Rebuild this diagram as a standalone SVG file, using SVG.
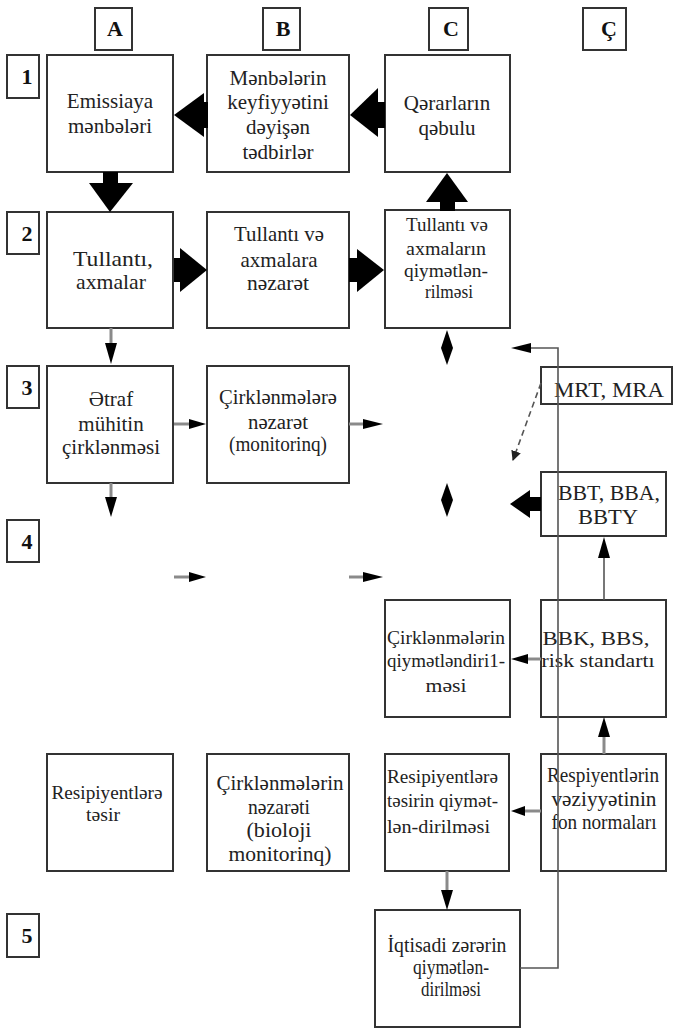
<svg xmlns="http://www.w3.org/2000/svg" width="674" height="1028" viewBox="0 0 674 1028">
<style>
.box{fill:#fff;stroke:#333;stroke-width:2}
.t{font-family:"Liberation Serif","DejaVu Serif",serif;font-size:21px;fill:#222;text-anchor:middle}
.s{font-size:19px}
.m{font-size:20px}
.l{text-anchor:start}
.h{font-family:"Liberation Serif","DejaVu Serif",serif;font-size:22px;font-weight:bold;fill:#111;text-anchor:middle}
.g{stroke:#8a8a8a;stroke-width:3;fill:none}
.fb{stroke:#555;stroke-width:1.6;fill:none}
.k{fill:#000;stroke:none}
.d{stroke:#555;stroke-width:1.6;fill:none;stroke-dasharray:6 4}
</style>
<defs>
<marker id="dh" viewBox="0 0 10 10" refX="9" refY="5" markerWidth="10" markerHeight="10" markerUnits="userSpaceOnUse" orient="auto">
<path d="M0,0 L10,5 L0,10 z" fill="#222"/>
</marker>
</defs>

<g id="headers">
<g id="hA"><rect class="box" x="95" y="8" width="37" height="42"/><text class="h" x="115" y="36">A</text></g>
<g id="hB"><rect class="box" x="263" y="8" width="37" height="42"/><text class="h" x="283" y="36">B</text></g>
<g id="hC"><rect class="box" x="429" y="8" width="39" height="42"/><text class="h" x="451" y="36">C</text></g>
<g id="hCc"><rect class="box" x="583" y="8" width="43" height="42"/><text class="h" x="609" y="36">Ç</text></g>
</g>
<g id="rows">
<g id="r1"><rect class="box" x="7" y="55" width="32" height="43"/><text class="h" x="27" y="84">1</text></g>
<g id="r2"><rect class="box" x="7" y="212" width="32" height="42"/><text class="h" x="27" y="241">2</text></g>
<g id="r3"><rect class="box" x="7" y="366" width="32" height="42"/><text class="h" x="27" y="395">3</text></g>
<g id="r4"><rect class="box" x="7" y="520" width="32" height="42"/><text class="h" x="27" y="549">4</text></g>
<g id="r5"><rect class="box" x="7" y="914" width="32" height="43"/><text class="h" x="27" y="943">5</text></g>
</g>

<g id="A1"><rect class="box" x="47" y="55" width="126" height="117"/>
<text class="t" x="110" y="108">Emissiaya</text><text class="t" x="110" y="133">mənbələri</text></g>
<g id="B1"><rect class="box" x="207" y="55" width="142" height="117"/>
<text class="t" x="278" y="85">Mənbələrin</text><text class="t" x="278" y="109">keyfiyyətini</text><text class="t" x="278" y="134">dəyişən</text><text class="t" x="278" y="159">tədbirlər</text></g>
<g id="C1"><rect class="box" x="385" y="55" width="125" height="117"/>
<text class="t" x="447" y="110">Qərarların</text><text class="t" x="447" y="135">qəbulu</text></g>

<g id="A2"><rect class="box" x="47" y="212" width="126" height="116"/>
<text class="t" x="113" y="266" font-size="22" textLength="80" lengthAdjust="spacingAndGlyphs">Tullantı,</text><text class="t" x="111" y="289" font-size="22" textLength="70" lengthAdjust="spacingAndGlyphs">axmalar</text></g>
<g id="B2"><rect class="box" x="207" y="212" width="142" height="116"/>
<text class="t" x="279" y="241" textLength="90" lengthAdjust="spacingAndGlyphs">Tullantı və</text><text class="t" x="279" y="267" textLength="77" lengthAdjust="spacingAndGlyphs">axmalara</text><text class="t" x="278" y="290" textLength="62" lengthAdjust="spacingAndGlyphs">nəzarət</text></g>
<g id="C2"><rect class="box" x="385" y="210" width="125" height="118"/>
<text class="t s" x="447" y="231" textLength="82" lengthAdjust="spacingAndGlyphs">Tullantı və</text><text class="t s" x="446" y="255" textLength="80" lengthAdjust="spacingAndGlyphs">axmaların</text><text class="t s" x="446" y="277" textLength="84" lengthAdjust="spacingAndGlyphs">qiymətlən-</text><text class="t s" x="449" y="298" textLength="48" lengthAdjust="spacingAndGlyphs">rilməsi</text></g>

<g id="A3"><rect class="box" x="47" y="366" width="126" height="117"/>
<text class="t" x="111" y="406">Ətraf</text><text class="t" x="111" y="431">mühitin</text><text class="t" x="111" y="454">çirklənməsi</text></g>
<g id="B3"><rect class="box" x="207" y="366" width="142" height="117"/>
<text class="t m" x="278" y="404" textLength="118" lengthAdjust="spacingAndGlyphs">Çirklənmələrə</text><text class="t m" x="278" y="429" textLength="60" lengthAdjust="spacingAndGlyphs">nəzarət</text><text class="t m" x="278" y="451" textLength="98" lengthAdjust="spacingAndGlyphs">(monitorinq)</text></g>
<g id="MRT"><rect class="box" x="541" y="367" width="131" height="37"/>
<text class="t" x="609" y="397" textLength="110" lengthAdjust="spacingAndGlyphs">MRT, MRA</text></g>
<g id="BBT"><rect class="box" x="541" y="472" width="125" height="64"/>
<text class="t m" x="609" y="500" textLength="102" lengthAdjust="spacingAndGlyphs">BBT, BBA,</text><text class="t m" x="608" y="524" textLength="60" lengthAdjust="spacingAndGlyphs">BBTY</text></g>

<g id="C4"><rect class="box" x="385" y="600" width="125" height="117"/>
<text class="t s" x="446" y="644" textLength="118" lengthAdjust="spacingAndGlyphs">Çirklənmələrin</text><text class="t s" x="446" y="667" textLength="118" lengthAdjust="spacingAndGlyphs">qiymətləndiri1-</text><text class="t s" x="446" y="692" textLength="41" lengthAdjust="spacingAndGlyphs">məsi</text></g>
<g id="BBK"><rect class="box" x="541" y="600" width="125" height="117"/>
<text class="t s" x="596" y="645" textLength="107" lengthAdjust="spacingAndGlyphs">BBK, BBS,</text><text class="t s" x="598" y="667" textLength="113" lengthAdjust="spacingAndGlyphs">risk standartı</text></g>

<g id="A5"><rect class="box" x="47" y="754" width="126" height="117"/>
<text class="t s" x="107" y="799" textLength="111" lengthAdjust="spacingAndGlyphs">Resipiyentlərə</text><text class="t s" x="103" y="821" textLength="34" lengthAdjust="spacingAndGlyphs">təsir</text></g>
<g id="B5"><rect class="box" x="207" y="754" width="142" height="117"/>
<text class="t" x="280" y="790" textLength="127" lengthAdjust="spacingAndGlyphs">Çirklənmələrin</text><text class="t" x="279" y="814" textLength="62" lengthAdjust="spacingAndGlyphs">nəzarəti</text><text class="t" x="279" y="837" textLength="65" lengthAdjust="spacingAndGlyphs">(bioloji</text><text class="t" x="280" y="861" textLength="103" lengthAdjust="spacingAndGlyphs">monitorinq)</text></g>
<g id="C5"><rect class="box" x="385" y="754" width="124" height="117"/>
<text class="t s l" x="387" y="783" textLength="111" lengthAdjust="spacingAndGlyphs">Resipiyentlərə</text><text class="t s l" x="387" y="807" textLength="111" lengthAdjust="spacingAndGlyphs">təsirin qiymət-</text><text class="t s l" x="387" y="833" textLength="103" lengthAdjust="spacingAndGlyphs">lən-dirilməsi</text></g>
<g id="D5"><rect class="box" x="541" y="754" width="125" height="117"/>
<text class="t" x="603" y="782" textLength="112" lengthAdjust="spacingAndGlyphs">Respiyentlərin</text><text class="t" x="604" y="806" textLength="105" lengthAdjust="spacingAndGlyphs">vəziyyətinin</text><text class="t" x="604" y="829" textLength="105" lengthAdjust="spacingAndGlyphs">fon normaları</text></g>
<g id="IQ"><rect class="box" x="375" y="910" width="145" height="117"/>
<text class="t m" x="447" y="952" textLength="119" lengthAdjust="spacingAndGlyphs">İqtisadi zərərin</text><text class="t m" x="451" y="974" textLength="76" lengthAdjust="spacingAndGlyphs">qiymətlən-</text><text class="t m" x="451" y="996" textLength="60" lengthAdjust="spacingAndGlyphs">dirilməsi</text></g>

<g id="connectors">
<rect class="k" x="103" y="172" width="15" height="12"/><polygon class="k" points="89,183 133,183 110,212"/>
<rect class="k" x="203" y="102" width="5" height="26"/><polygon class="k" points="174,115 204,93 204,137"/>
<rect class="k" x="377" y="102" width="8" height="26"/><polygon class="k" points="350,115 378,88 378,137"/>
<rect class="k" x="440" y="201" width="15" height="10"/><polygon class="k" points="447,173 468,202 426,202"/>
<rect class="k" x="174" y="258" width="7" height="24"/><polygon class="k" points="180,248 207,270 180,292"/>
<rect class="k" x="349" y="258" width="9" height="24"/><polygon class="k" points="357,249 384,270 357,292"/>
<rect class="k" x="529" y="497" width="12" height="14"/><polygon class="k" points="510,504 530,490 530,518"/>
<polygon class="k" points="447,330 453,348 447,365 441,348"/>
<polygon class="k" points="447,483 453,500 447,517 441,500"/>
<line class="g" x1="111" y1="328" x2="111" y2="345"/><polygon class="k" points="105,343 117,343 111,364"/>
<line class="g" x1="111" y1="483" x2="111" y2="498"/><polygon class="k" points="105,497 117,497 111,517"/>
<line class="g" x1="174" y1="424" x2="190" y2="424"/><polygon class="k" points="189,419 206,424 189,429"/>
<line class="g" x1="349" y1="424" x2="364" y2="424"/><polygon class="k" points="363,419 383,424 363,429"/>
<line class="g" x1="174" y1="577" x2="190" y2="577"/><polygon class="k" points="189,572 206,577 189,582"/>
<line class="g" x1="349" y1="577" x2="364" y2="577"/><polygon class="k" points="363,572 383,577 363,582"/>
<line class="g" x1="541" y1="659" x2="527" y2="659"/><polygon class="k" points="528,654 511,659 528,664"/>
<line class="g" x1="541" y1="811" x2="524" y2="811"/><polygon class="k" points="525,806 511,811 525,816"/>
<line class="g" x1="447" y1="871" x2="447" y2="891"/><polygon class="k" points="441,890 453,890 447,910"/>
<line class="g" x1="604" y1="754" x2="604" y2="736"/><polygon class="k" points="598,737 610,737 604,717"/>
<line class="fb" x1="604" y1="600" x2="604" y2="557"/><polygon class="k" points="598,558 610,558 604,537"/>
<path class="d" d="M541,383 L513,460" marker-end="url(#dh)"/>
<polyline class="fb" points="520,968 558,968 558,348 530,348"/><polygon class="k" points="531,343 511,348 531,353"/>
</g>
</svg>
